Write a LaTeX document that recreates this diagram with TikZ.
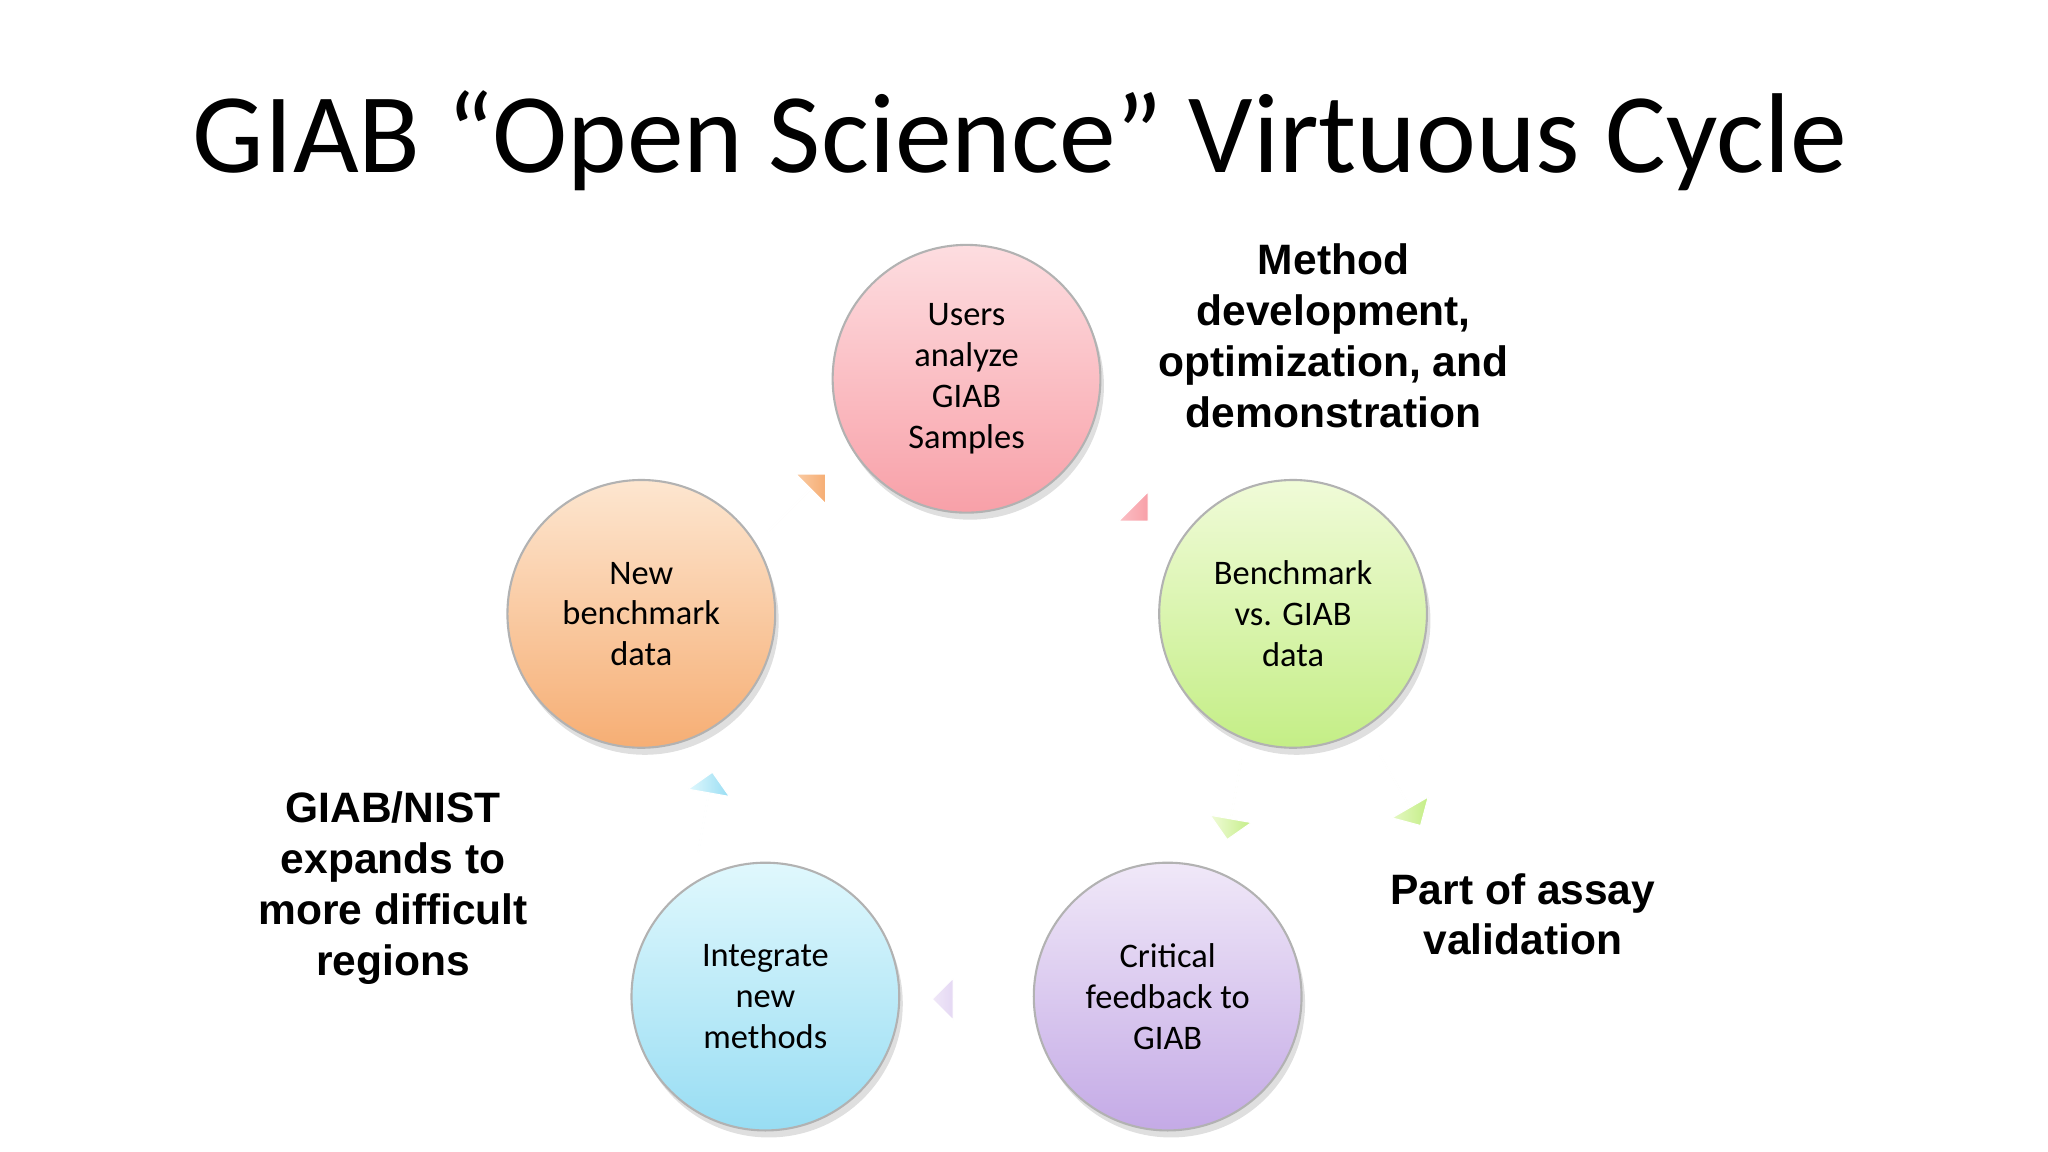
\documentclass[tikz,border=0pt]{standalone}
\usepackage{fontspec}
\setmainfont{Carlito}
\newfontfamily\arialb{Liberation Sans}
\usetikzlibrary{shapes.arrows,shadows}
\definecolor{pkA}{HTML}{FDDDE0}\definecolor{pkB}{HTML}{F8A0A8}
\definecolor{grA}{HTML}{F0FBD8}\definecolor{grB}{HTML}{C4EE86}
\definecolor{orA}{HTML}{FDE6D0}\definecolor{orB}{HTML}{F6AE74}
\definecolor{blA}{HTML}{E0F8FD}\definecolor{blB}{HTML}{98DDF3}
\definecolor{puA}{HTML}{F0E8F8}\definecolor{puB}{HTML}{C4AAE6}
\tikzset{
 circ/.style={circle,minimum size=205*0.013061cm,draw=gray!60,line width=0.6pt,
   align=center,font=\fontsize{9.8}{11.6}\selectfont,drop shadow={opacity=0.25,shadow xshift=1pt,shadow yshift=-2pt}},
 barr/.style={single arrow,minimum height=62*0.013061cm,minimum width=32*0.013061cm,
   single arrow head extend=14*0.013061cm,inner sep=0pt,single arrow tip angle=90,draw=white,line width=0.3pt},
 lbl/.style={align=center,font=\arialb\bfseries\fontsize{12.1}{14.5}\selectfont}
}
\begin{document}
\begin{tikzpicture}[x=0.013061cm,y=0.013061cm]
\useasboundingbox (0,0) rectangle (1568,-882);
\node (title) at (781,-108) {\fontsize{32.3}{38}\selectfont GIAB “Open Science” Virtuous Cycle};
\node[circ,top color=pkA,bottom color=pkB] (u) at (740,-290) {Users\\analyze\\GIAB\\Samples};
\node[circ,top color=grA,bottom color=grB] (b) at (990,-470) {Benchmark\\vs. GIAB\\data};
\node[circ,top color=puA,bottom color=puB] (c) at (894,-763) {Critical\\feedback to\\GIAB};
\node[circ,top color=blA,bottom color=blB] (i) at (586,-763) {Integrate\\new\\methods};
\node[circ,top color=orA,bottom color=orB] (n) at (491,-470) {New\\benchmark\\data};
\node[barr,rotate=-45,left color=pkA,right color=pkB] (a1) at (857,-377) {};
\node[barr,rotate=-100,left color=grA,right color=grB] (a2) at (945,-612) {};
\node[barr,rotate=-60,left color=grA,right color=grB] (a3) at (1072,-605) {};
\node[barr,rotate=180,left color=puA,right color=puB] (a4) at (745,-765) {};
\node[barr,rotate=80,left color=blA,right color=blB] (a5) at (540,-622) {};
\node[barr,rotate=45,left color=orA,right color=orB] (a6) at (610,-385) {};
\node[lbl] (l1) at (1021,-257) {Method\\development,\\optimization, and\\demonstration};
\node[lbl] (l2) at (1166,-700) {Part of assay\\validation};
\node[lbl] (l3) at (301,-680) {GIAB/NIST\\expands to\\more difficult\\regions};
\end{tikzpicture}
\end{document}
